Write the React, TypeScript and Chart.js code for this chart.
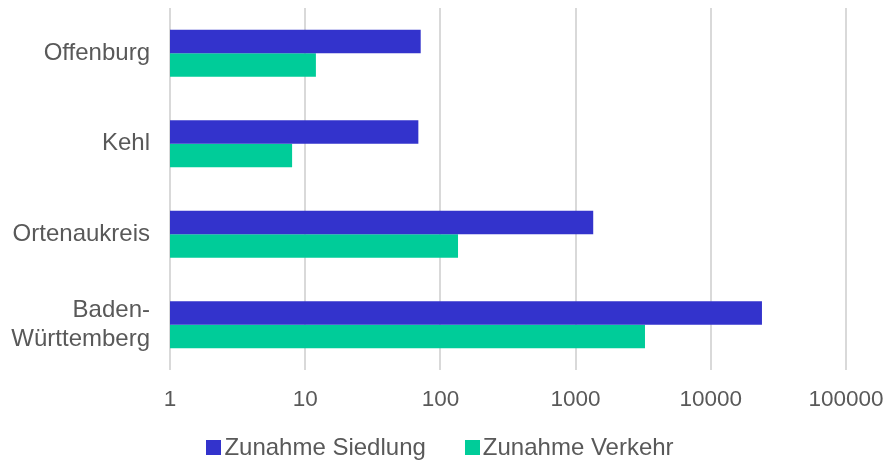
import React, { useEffect, useRef } from "react";
import { Chart, registerables } from "chart.js";

Chart.register(...registerables);

const categories: (string | string[])[] = ["Offenburg", "Kehl", "Ortenaukreis", ["Baden-", "Württemberg"]];
const siedlung = [71.5, 68.7, 1350, 23900];
const verkehr = [12, 8, 135, 3260];
const tickValues = [1, 10, 100, 1000, 10000, 100000];
const seriesNames = ["Zunahme Siedlung", "Zunahme Verkehr"];
const colors = ["#3333CC", "#00CC99"];

const FONT = "'Liberation Sans', Arial, sans-serif";
const TEXT = "#595959";

export default function App() {
  const ref = useRef<HTMLCanvasElement>(null);
  useEffect(() => {
    if (!ref.current) return;
    const chart = new Chart(ref.current, {
      type: "bar",
      data: {
        labels: categories,
        datasets: [
          { label: seriesNames[0], data: siedlung, backgroundColor: colors[0], borderWidth: 0 },
          { label: seriesNames[1], data: verkehr, backgroundColor: colors[1], borderWidth: 0 },
        ],
      },
      options: {
        indexAxis: "y",
        animation: false,
        responsive: false,
        maintainAspectRatio: false,
        layout: { padding: { top: 8, right: 42, bottom: 36, left: 0 } },
        datasets: { bar: { categoryPercentage: 0.52, barPercentage: 1 } },
        plugins: { legend: { display: false }, tooltip: { enabled: false } },
        scales: {
          x: {
            type: "logarithmic",
            min: 1,
            max: 100000,
            afterBuildTicks: (scale: any) => {
              scale.ticks = tickValues.map((v) => ({ value: v }));
            },
            afterFit: (scale: any) => {
              scale.paddingLeft = 0;
              scale.paddingRight = 0;
            },
            grid: { color: "#d9d9d9", lineWidth: 2, drawTicks: false },
            border: { display: false },
            ticks: {
              padding: 16,
              color: TEXT,
              font: { family: FONT, size: 22.5 },
              maxRotation: 0,
              autoSkip: false,
              callback: (v: any) => String(v),
            },
          },
          y: {
            grid: { display: false, drawTicks: false },
            border: { display: false },
            afterFit: (scale: any) => {
              scale.width = 170;
              scale.paddingTop = 0;
              scale.paddingBottom = 0;
            },
            ticks: {
              padding: 20,
              color: TEXT,
              font: { family: FONT, size: 24 },
            },
          },
        },
      },
    } as any);
    return () => chart.destroy();
  }, []);

  return (
    <div style={{ position: "absolute", left: 0, top: 0, width: 888, height: 465, background: "#fff" }}>
      <canvas ref={ref} width={888} height={465} style={{ position: "absolute", left: 0, top: 0 }} />
      <div
        style={{
          position: "absolute",
          left: 0,
          top: 433,
          width: 880,
          display: "flex",
          justifyContent: "center",
          fontFamily: FONT,
          fontSize: 24,
          color: TEXT,
          lineHeight: "28px",
        }}
      >
        {seriesNames.map((n, i) => (
          <div key={n} style={{ display: "flex", alignItems: "center", marginLeft: i ? 39 : 0 }}>
            <span style={{ width: 15, height: 15, background: colors[i], marginRight: 3, display: "inline-block" }} />
            <span>{n}</span>
          </div>
        ))}
      </div>
    </div>
  );
}
